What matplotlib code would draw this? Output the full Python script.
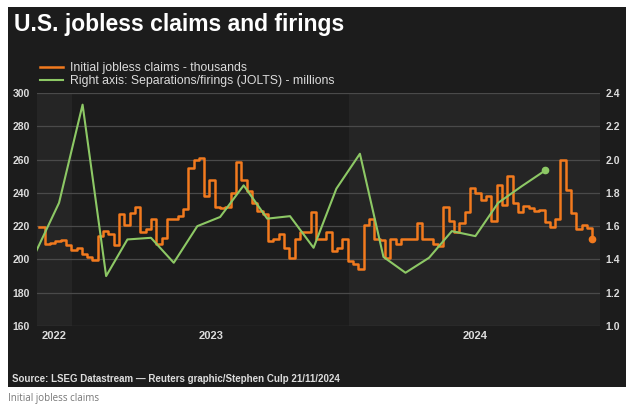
import numpy as np
import pandas as pd
import matplotlib
matplotlib.use("Agg")
import matplotlib.pyplot as plt
import matplotlib.transforms as mtransforms
from matplotlib.patches import Rectangle

# -------- DATA --------
# weekly initial jobless claims (thousands), week ending Saturdays
claims_start = "2022-11-19"
claims = [
    219.5, 209, 210, 211, 211.5, 208.5, 205.5, 207, 203, 201.5,
    199.5, 214, 217, 215.5, 208.5, 227.5, 220.5, 228, 231.5, 216.5,
    218, 224, 209, 213, 224.5, 224.5, 226, 230.5, 255, 260,
    261, 238, 248, 231.5, 231, 231.5, 240, 258.5, 248, 241,
    234, 229, 227.5, 211, 212, 215, 207, 201, 212, 216.5,
    216.5, 228.5, 212, 212.5, 216.5, 205, 207, 212, 199, 197,
    194.5, 220.5, 224.5, 212.5, 211.5, 201, 212.5, 209.5, 212.5, 212.5,
    212.5, 222, 212.5, 212.5, 209, 208, 231.5, 223, 216.5, 222,
    228.5, 243, 240, 236, 238, 223, 245, 233, 250, 234,
    228.5, 232, 231, 229, 230, 222.5, 219.5, 224, 260, 242,
    228, 218, 220.5, 219, 212.5,
]

# JOLTS layoffs/discharges (millions), monthly Nov 2022 - Sep 2024
jolts_start = "2022-11-01"
jolts = [
    1.45, 1.74, 2.33, 1.30, 1.52, 1.53, 1.38, 1.60, 1.655, 1.845,
    1.645, 1.66, 1.47, 1.825, 2.035, 1.415, 1.32, 1.41, 1.57, 1.54,
    1.74, 1.84, 1.935,
]

left_ticks = [160, 180, 200, 220, 240, 260, 280, 300]
right_ticks = [1.0, 1.2, 1.4, 1.6, 1.8, 2.0, 2.2, 2.4]
years = [2022, 2023, 2024]

claims_dates = pd.date_range(claims_start, periods=len(claims), freq="7D")
jolts_dates = pd.date_range(jolts_start, periods=len(jolts), freq="MS") + pd.Timedelta(days=14)
x_left = pd.Timestamp("2022-11-16")
x_right = pd.Timestamp("2024-11-26")

# -------- STYLE --------
BG = "#1c1c1c"
BAND = "#252525"
GRID = "#4a4a4a"
TXT = "#dcdcdc"
ORANGE = "#f27a1e"
GREEN = "#8dc865"
plt.rcParams["font.family"] = ["Liberation Sans", "DejaVu Sans"]

W, H = 640, 404
fig = plt.figure(figsize=(W / 100, H / 100), dpi=100, facecolor="white")

# dark panel
fig.patches.append(Rectangle((8 / W, 1 - 387 / H), 618 / W, 380 / H,
                             transform=fig.transFigure, facecolor=BG,
                             edgecolor="none", zorder=-10))

ax = fig.add_axes([37 / W, 1 - 326 / H, 563 / W, 233 / H])
ax.set_facecolor("none")
ax2 = ax.twinx()

# year bands
for yr in years:
    a = max(pd.Timestamp(f"{yr}-01-01"), x_left)
    b = min(pd.Timestamp(f"{yr + 1}-01-01"), x_right)
    if yr != 2023:
        ax.axvspan(a, b, color=BAND, zorder=0, lw=0)
    ax.text(a + (b - a) / 2, -0.045, str(yr),
            transform=mtransforms.blended_transform_factory(ax.transData, ax.transAxes),
            ha="center", va="center", color=TXT, fontsize=8, fontweight="bold")

ax.set_ylim(160, 300)
ax.set_yticks(left_ticks)
ax.yaxis.grid(True, color=GRID, lw=0.9)
ax.set_axisbelow(True)
ax2.set_ylim(1.0, 2.4)
ax2.set_yticks(right_ticks)
ax2.set_yticklabels([f"{v:.1f}" for v in right_ticks])
ax.set_xlim(x_left, x_right)
ax.set_xticks([])

for a_ in (ax, ax2):
    for s in a_.spines.values():
        s.set_visible(False)
    a_.tick_params(length=0, labelcolor=TXT, labelsize=7.5)
    for lab in a_.get_yticklabels():
        lab.set_fontweight("bold")
ax.tick_params(axis="y", pad=5)
ax2.tick_params(axis="y", pad=4)

l1, = ax.plot(claims_dates, claims, drawstyle="steps-post", color=ORANGE, lw=1.8, zorder=3)
ax.plot(claims_dates[-1:], claims[-1:], "o", color=ORANGE, ms=4.5, zorder=4)
l2, = ax2.plot(jolts_dates, jolts, color=GREEN, lw=1.5, zorder=3)
ax2.plot(jolts_dates[-1:], jolts[-1:], "o", color=GREEN, ms=4.5, zorder=4)

fig.legend([l1, l2],
           ["Initial jobless claims - thousands",
            "Right axis: Separations/firings (JOLTS) - millions"],
           loc="upper left", bbox_to_anchor=(40 / W, 1 - 62 / H),
           frameon=False, fontsize=8.8, labelcolor=TXT, handlelength=1.9,
           handletextpad=0.55, labelspacing=0.1, borderpad=0, borderaxespad=0)

fig.text(14 / W, 1 - 25 / H, "U.S. jobless claims and firings", color="white",
         fontsize=16.5, fontweight="bold", va="center", ha="left")
fig.text(12 / W, 1 - 379 / H,
         "Source: LSEG Datastream \u2014 Reuters graphic/Stephen Culp 21/11/2024",
         color=TXT, fontsize=7, fontweight="bold", va="center", ha="left")
fig.text(8 / W, 1 - 398 / H, "Initial jobless claims", color="#777777",
         fontsize=7, va="center", ha="left", family=["Open Sans", "DejaVu Sans"])

fig.savefig("out.png", dpi=100, facecolor="white")
